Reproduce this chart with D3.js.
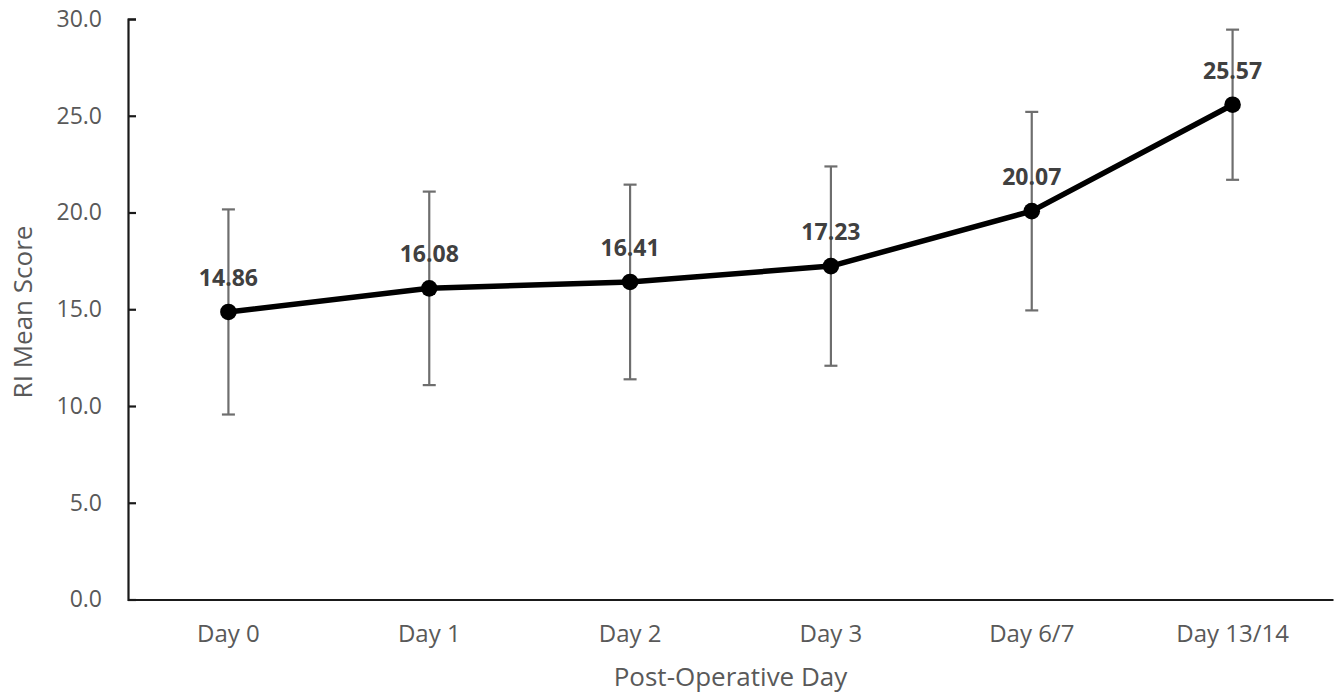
<!DOCTYPE html>
<html>
<head>
<meta charset="utf-8">
<script src="https://cdn.jsdelivr.net/npm/d3@7"></script>
<style>
  html, body { margin: 0; padding: 0; background: #fff; }
  svg { display: block; font-family: "Open Sans", sans-serif; }
</style>
</head>
<body>
<svg id="chart"></svg>
<script>
// chart data
const days = ["Day 0", "Day 1", "Day 2", "Day 3", "Day 6/7", "Day 13/14"];
const meanScore = [14.86, 16.08, 16.41, 17.23, 20.07, 25.57];
const sdScore = [5.3, 5.0, 5.03, 5.15, 5.13, 3.88];
const yTicks = [0, 5, 10, 15, 20, 25, 30];

const width = 1342;
const height = 698;
const plotLeft = 128, plotRight = 1333, plotTop = 19, plotBottom = 599.5;

const svg = d3.select("#chart")
    .attr("width", width)
    .attr("height", height);

const xScale = d3.scaleBand()
    .domain(days)
    .range([plotLeft, plotRight])
    .padding(0);

const yScale = d3.scaleLinear()
    .domain([0, 30])
    .range([plotBottom, plotTop]);

const cx = d => xScale(d) + xScale.bandwidth() / 2;

// y axis, ticks pointing inward
const yAxis = svg.append("g")
    .attr("transform", `translate(${plotLeft},0)`)
    .call(d3.axisRight(yScale).tickValues(yTicks).tickSize(8).tickFormat(d3.format(".1f")));
yAxis.select(".domain").attr("stroke", "#1a1a1a").attr("stroke-width", 2.2);
yAxis.selectAll(".tick line").attr("stroke", "#1a1a1a").attr("stroke-width", 2.2);
yAxis.selectAll(".tick text")
    .attr("x", -26)
    .attr("text-anchor", "end")
    .attr("fill", "#595959")
    .style("font-size", "23px")
    .style("font-family", "Open Sans");

// x axis
const xAxis = svg.append("g")
    .attr("transform", `translate(0,${plotBottom})`)
    .call(d3.axisBottom(xScale).tickSize(0).tickSizeOuter(0));
xAxis.select(".domain").attr("stroke", "#1a1a1a").attr("stroke-width", 2.2);
xAxis.selectAll(".tick text")
    .attr("y", 25)
    .attr("dy", "0.71em")
    .attr("fill", "#595959")
    .style("font-size", "24px")
    .style("font-family", "Open Sans");

// axis titles
svg.append("text")
    .attr("x", (plotLeft + plotRight) / 2)
    .attr("y", 686)
    .attr("text-anchor", "middle")
    .attr("fill", "#595959")
    .style("font-size", "26px")
    .text("Post-Operative Day");

svg.append("text")
    .attr("transform", `translate(32,312) rotate(-90)`)
    .attr("text-anchor", "middle")
    .attr("fill", "#595959")
    .style("font-size", "26px")
    .text("RI Mean Score");

// error bars
const err = svg.append("g").attr("stroke", "#6e6e6e").attr("stroke-width", 2.2);
days.forEach((d, i) => {
    const x = cx(d);
    const hi = yScale(meanScore[i] + sdScore[i]);
    const lo = yScale(meanScore[i] - sdScore[i]);
    err.append("line").attr("x1", x).attr("x2", x).attr("y1", hi).attr("y2", lo);
    err.append("line").attr("x1", x - 6.5).attr("x2", x + 6.5).attr("y1", hi).attr("y2", hi);
    err.append("line").attr("x1", x - 6.5).attr("x2", x + 6.5).attr("y1", lo).attr("y2", lo);
});

// mean line
const line = d3.line()
    .x((v, i) => cx(days[i]))
    .y(v => yScale(v));

svg.append("path")
    .datum(meanScore)
    .attr("fill", "none")
    .attr("stroke", "#000")
    .attr("stroke-width", 5.5)
    .attr("stroke-linejoin", "round")
    .attr("d", line);

svg.selectAll("circle.pt")
    .data(meanScore)
    .enter()
    .append("circle")
    .attr("class", "pt")
    .attr("cx", (v, i) => cx(days[i]))
    .attr("cy", v => yScale(v))
    .attr("r", 8.3)
    .attr("fill", "#000");

// value labels
svg.selectAll("text.val")
    .data(meanScore)
    .enter()
    .append("text")
    .attr("class", "val")
    .attr("x", (v, i) => cx(days[i]))
    .attr("y", v => yScale(v) - 26)
    .attr("text-anchor", "middle")
    .attr("fill", "#404040")
    .style("font-size", "23px")
    .style("font-weight", "bold")
    .text(v => v.toFixed(2));
</script>
</body>
</html>
